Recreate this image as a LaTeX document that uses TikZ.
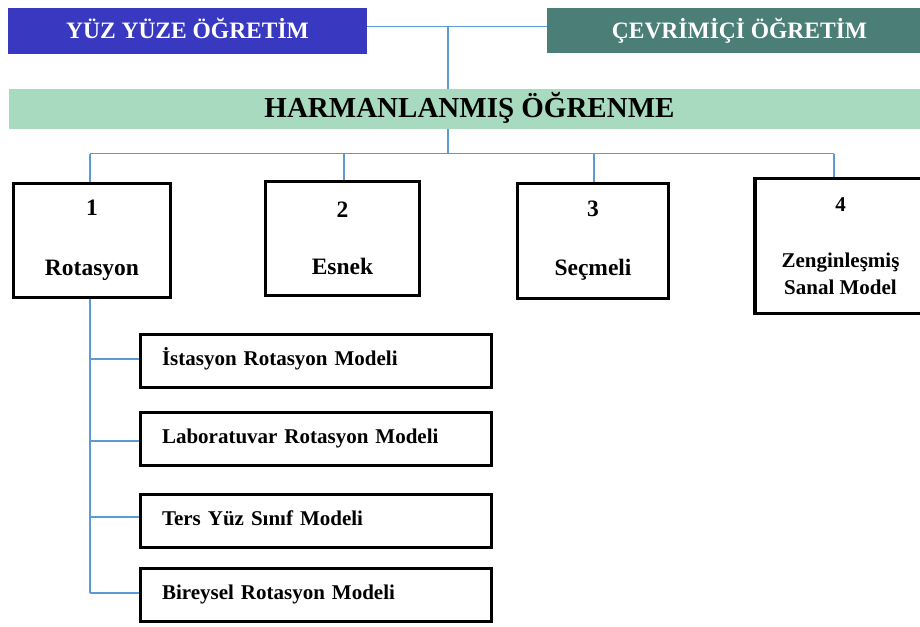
\documentclass[tikz,border=0pt]{standalone}
\usepackage{fontspec}
\setmainfont{Liberation Serif}
\definecolor{yuzblue}{HTML}{3838C0}
\definecolor{cevteal}{HTML}{4A7E76}
\definecolor{harmgreen}{HTML}{A8DABF}
\definecolor{linkblue}{HTML}{5B9BD5}
\begin{document}
\begin{tikzpicture}[x=1pt,y=-1pt,
  topbox/.style={fill=#1, draw=none, inner sep=0pt, text=white,
     font=\fontsize{23.5}{27}\selectfont\bfseries, text height=16pt, text depth=0pt},
  mainbox/.style={draw=black, line width=3.2pt, fill=white, inner sep=0pt, align=center,
     font=\fontsize{23.5}{27}\selectfont\bfseries},
  subbox/.style={draw=black, line width=3.2pt, fill=white, inner xsep=21.5pt, inner ysep=0pt,
     minimum width=351pt, minimum height=53pt, text width=308pt, align=left,
     font=\fontsize{21}{25}\selectfont\bfseries, text height=14pt, text depth=5pt},
  link/.style={draw=linkblue, line width=1.2pt}]
\useasboundingbox (0,0) rectangle (920,626);
% top row
\node[topbox=yuzblue, minimum width=359pt, minimum height=46pt] (yuz) at (187.5,31) {YÜZ YÜZE ÖĞRETİM};
\node[topbox=cevteal, minimum width=385pt, minimum height=45pt] (cev) at (739.5,30.7) {ÇEVRİMİÇİ ÖĞRETİM};
\node[fill=harmgreen, inner sep=0pt, minimum width=921pt, minimum height=40pt,
  font=\fontsize{29}{32}\selectfont\bfseries, text height=17pt, text depth=0pt] (harm) at (469.5,109) {HARMANLANMIŞ ÖĞRENME};
% model boxes
\node[mainbox, minimum width=157pt, minimum height=114pt] (b1) at (92,240.5) {1\\[33pt]Rotasyon};
\node[mainbox, minimum width=154pt, minimum height=114pt] (b2) at (342.5,238.5) {2\\[30pt]Esnek};
\node[mainbox, minimum width=151pt, minimum height=115pt] (b3) at (593,241) {3\\[32pt]Seçmeli};
\node[mainbox, minimum width=171pt, minimum height=135pt, font=\fontsize{21}{27}\selectfont\bfseries] (b4) at (840.5,246) {4\\[29pt]Zenginleşmiş\\Sanal Model};
% sub boxes
\node[subbox] (s1) at (316,361) {İstasyon Rotasyon Modeli};
\node[subbox] (s2) at (316,439) {Laboratuvar Rotasyon Modeli};
\node[subbox] (s3) at (316,521) {Ters Yüz Sınıf Modeli};
\node[subbox] (s4) at (316,595) {Bireysel Rotasyon Modeli};
% connectors top
\coordinate (jt) at (448,26.7);
\draw[link] (yuz.east |- jt) -- (cev.west |- jt);
\draw[link] (jt) -- (jt |- harm.north);
% rail below bar
\coordinate (jb) at (448,153.5);
\coordinate (d1) at (90,153.5);
\coordinate (d2) at (344,153.5);
\coordinate (d3) at (594,153.5);
\coordinate (d4) at (834,153.5);
\draw[link] (jb |- harm.south) -- (jb);
\draw[link] (d1) -- (d4);
\draw[link] (d1) -- (d1 |- b1.north);
\draw[link] (d2) -- (d2 |- b2.north);
\draw[link] (d3) -- (d3 |- b3.north);
\draw[link] (d4) -- (d4 |- b4.north);
% rotasyon branches
\coordinate (r0) at (90,299);
\coordinate (r1) at (90,359);
\coordinate (r2) at (90,441);
\coordinate (r3) at (90,517);
\coordinate (r4) at (90,593);
\draw[link] (r0 |- b1.south) -- (r4);
\draw[link] (r1) -- (r1 -| s1.west);
\draw[link] (r2) -- (r2 -| s2.west);
\draw[link] (r3) -- (r3 -| s3.west);
\draw[link] (r4) -- (r4 -| s4.west);
\end{tikzpicture}
\end{document}
